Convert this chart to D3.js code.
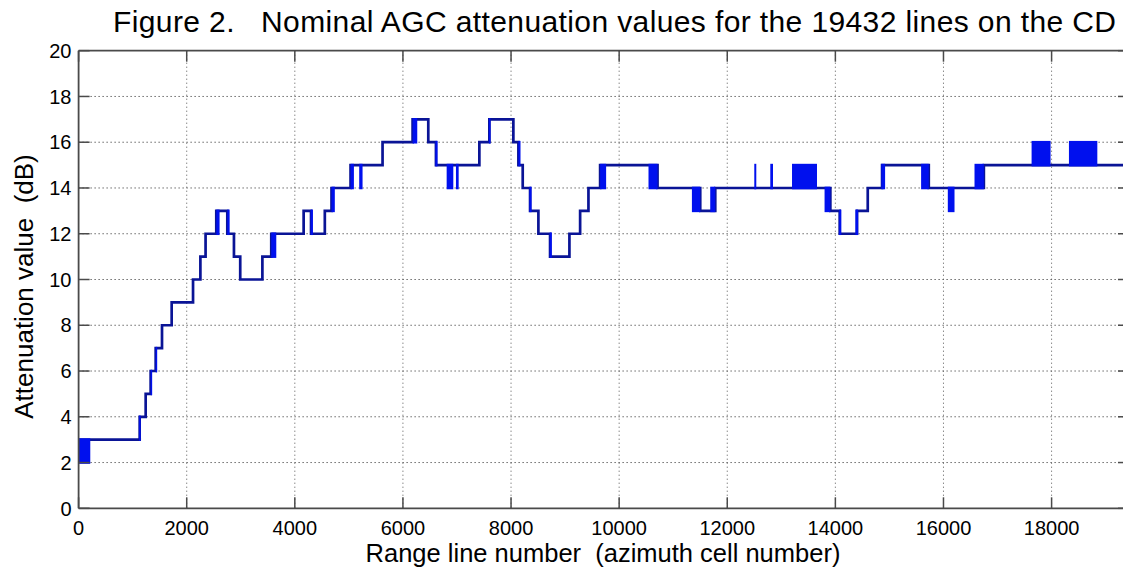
<!DOCTYPE html>
<html>
<head>
<meta charset="utf-8">
<script src="https://cdn.jsdelivr.net/npm/d3@7"></script>
<style>
  html, body { margin: 0; padding: 0; background: #fff; }
  svg { display: block; }
  text { font-family: "Liberation Sans", Arial, sans-serif; fill: #000; white-space: pre; }
</style>
</head>
<body>
<svg id="chart" width="1123" height="569"></svg>
<script>
// ---- data ----
const titleText = "Figure 2.   Nominal AGC attenuation values for the 19432 lines on the CD";
const xLabel = "Range line number  (azimuth cell number)";
const yLabel = "Attenuation value  (dB)";
const xTicks = [0, 2000, 4000, 6000, 8000, 10000, 12000, 14000, 16000, 18000];
const yTicks = [0, 2, 4, 6, 8, 10, 12, 14, 16, 18, 20];
const xMax = 19432;

// step function: value holds from stepX[i] until stepX[i+1]
const stepX = [0, 1130, 1241, 1333, 1426, 1543, 1722, 2117, 2253, 2349,
  2547, 2751, 2874, 2990, 3400, 3564, 4163, 4300, 4555, 4679,
  5031, 5623, 6179, 6469, 6611, 7414, 7599, 8043, 8136, 8216,
  8352, 8506, 8722, 9080, 9278, 9432, 9648, 10710, 11500, 11778,
  13907, 14080, 14401, 14599, 14864, 15728, 16747, 19432];
const stepY = [3, 4, 5, 6, 7, 8, 9, 10, 11, 12,
  13, 12, 11, 10, 11, 12, 13, 12, 13, 14,
  15, 16, 17, 16, 15, 16, 17, 16, 15, 14,
  13, 12, 11, 12, 13, 14, 15, 14, 13, 14,
  13, 12, 13, 14, 15, 14, 15, 15];

// rapidly toggling stretches (drawn as solid bands)
const bandStart = [0, 1120, 1333, 1426, 2547, 2751, 3564, 4292, 4679, 5031, 5191, 6179, 6600, 6809, 6981, 7590, 8136, 8340, 8715, 9648, 10543, 11346, 11685, 12500, 12796, 13198, 13800, 14070, 14370, 14850, 15586, 16080, 16574, 17630, 18321];
const bandEnd   = [216, 1140, 1360, 1445, 2608, 2794, 3657, 4335, 4740, 5093, 5253, 6265, 6640, 6932, 7031, 7620, 8175, 8380, 8755, 9759, 10710, 11500, 11778, 12537, 12846, 13660, 13907, 14110, 14420, 14920, 15728, 16204, 16747, 17981, 18846];
const bandLow   = [2, 3, 5, 6, 12, 12, 11, 12, 13, 14, 14, 16, 15, 14, 14, 16, 15, 13, 11, 14, 14, 13, 13, 14, 14, 14, 13, 12, 12, 14, 14, 13, 14, 15, 15];
const bandHigh  = [3, 4, 6, 7, 13, 13, 12, 13, 14, 15, 15, 17, 16, 15, 15, 17, 16, 14, 12, 15, 15, 14, 14, 15, 15, 15, 14, 13, 13, 15, 15, 14, 15, 16, 16];

// ---- layout ----
const svg = d3.select("#chart");
const pL = 78.6, pR = 1129, pT = 50.7, pB = 508.3;
const x = d3.scaleLinear().domain([0, xMax]).range([pL, pR]);
const y = d3.scaleLinear().domain([0, 20]).range([pB, pT]);
const axisColor = "#4a4a4a";
const tickLen = 11;

svg.append("defs").append("clipPath").attr("id", "clip")
  .append("rect").attr("x", pL).attr("y", pT).attr("width", pR - pL).attr("height", pB - pT);

// grid
const grid = svg.append("g");
grid.selectAll("line.h").data(yTicks.filter(d => d > 0 && d < 20)).enter().append("line")
  .attr("x1", pL).attr("x2", pR).attr("y1", d => y(d)).attr("y2", d => y(d))
  .attr("stroke", "#222").attr("stroke-width", 1).attr("stroke-dasharray", "1,3");
grid.selectAll("line.v").data(xTicks.filter(d => d > 0)).enter().append("line")
  .attr("x1", d => x(d)).attr("x2", d => x(d)).attr("y1", pT).attr("y2", pB)
  .attr("stroke", "#555").attr("stroke-width", 1).attr("stroke-dasharray", "1,3");

// data line
const pts = stepX.map((d, i) => [d, stepY[i]]);
const line = d3.line().x(d => x(d[0])).y(d => y(d[1])).curve(d3.curveStepAfter);
const plot = svg.append("g").attr("clip-path", "url(#clip)");
plot.append("path").datum(pts).attr("d", line)
  .attr("fill", "none").attr("stroke", "#0a1496").attr("stroke-width", 2.7)
  .attr("stroke-linejoin", "miter");

plot.selectAll("rect.band").data(bandStart.map((d, i) => i)).enter().append("rect")
  .attr("x", i => x(bandStart[i]))
  .attr("width", i => Math.max(1.5, x(bandEnd[i]) - x(bandStart[i])))
  .attr("y", i => y(bandHigh[i]) - 1.3)
  .attr("height", i => y(bandLow[i]) - y(bandHigh[i]) + 2.6)
  .attr("fill", "#0010ee");

// axes box
const ax = svg.append("g").attr("stroke", axisColor).attr("stroke-width", 1.8);
ax.append("line").attr("x1", pL).attr("x2", pL).attr("y1", pT).attr("y2", pB);
ax.append("line").attr("x1", pL).attr("x2", pR).attr("y1", pB).attr("y2", pB);
ax.append("line").attr("x1", pL).attr("x2", pR).attr("y1", pT).attr("y2", pT);
ax.append("line").attr("x1", pR).attr("x2", pR).attr("y1", pT).attr("y2", pB);

// ticks
const tk = svg.append("g").attr("stroke", axisColor).attr("stroke-width", 1.5);
xTicks.forEach(d => {
  tk.append("line").attr("x1", x(d)).attr("x2", x(d)).attr("y1", pB).attr("y2", pB - tickLen);
  tk.append("line").attr("x1", x(d)).attr("x2", x(d)).attr("y1", pT).attr("y2", pT + tickLen);
});
yTicks.forEach(d => {
  tk.append("line").attr("x1", pL).attr("x2", pL + tickLen).attr("y1", y(d)).attr("y2", y(d));
  tk.append("line").attr("x1", pR).attr("x2", pR - tickLen).attr("y1", y(d)).attr("y2", y(d));
});

// tick labels
svg.append("g").selectAll("text").data(xTicks).enter().append("text")
  .attr("x", d => x(d)).attr("y", 535).attr("text-anchor", "middle")
  .attr("font-size", 20).text(d => d);
svg.append("g").selectAll("text").data(yTicks).enter().append("text")
  .attr("x", 71.5).attr("y", d => y(d) + 7.2).attr("text-anchor", "end")
  .attr("font-size", 20).text(d => d);

// titles
svg.append("text").attr("x", 113).attr("y", 31.5).attr("font-size", 30)
  .attr("textLength", 1003).attr("lengthAdjust", "spacing")
  .attr("xml:space", "preserve").text(titleText);
svg.append("text").attr("x", 603).attr("y", 562).attr("text-anchor", "middle")
  .attr("font-size", 25.5).attr("xml:space", "preserve").text(xLabel);
svg.append("text").attr("transform", "translate(33,286.5) rotate(-90)")
  .attr("text-anchor", "middle").attr("font-size", 26)
  .attr("xml:space", "preserve").text(yLabel);
</script>
</body>
</html>
